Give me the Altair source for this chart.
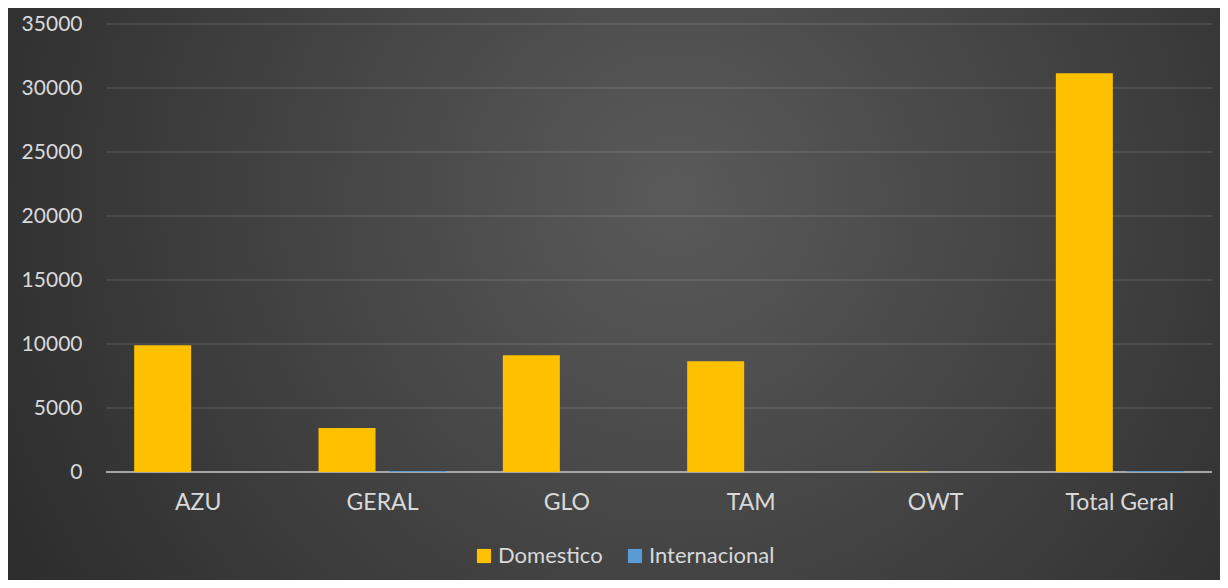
import altair as alt
import pandas as pd

categories = ["AZU", "GERAL", "GLO", "TAM", "OWT", "Total Geral"]
domestico = [9900, 3440, 9120, 8650, 40, 31150]
internacional = [0, 80, 0, 0, 0, 80]
series = ["Domestico", "Internacional"]
colors = ["#FFC000", "#5B9BD5"]
y_ticks = [0, 5000, 10000, 15000, 20000, 25000, 30000, 35000]

rows = []
for c, d, i in zip(categories, domestico, internacional):
    rows.append({"cat": c, "serie": series[0], "valor": d})
    rows.append({"cat": c, "serie": series[1], "valor": i})
df = pd.DataFrame(rows)

W, H = 1106, 448
PL, PT, PR, PB = 98, 16, 8, 108
FONT = "Lato"
TXT = "#d9d9d9"
FS = 23
yscale = alt.Scale(domain=[0, 35000], nice=False)

bg = alt.Chart(pd.DataFrame({"k": [0]})).mark_rect(
    fill={
        "gradient": "radial",
        "x1": 0.55, "y1": 0.42, "r1": 0.0,
        "x2": 0.55, "y2": 0.42, "r2": 0.72,
        "stops": [
            {"offset": 0.0, "color": "#5a5a5a"},
            {"offset": 1.0, "color": "#262626"},
        ],
    }
).encode(
    x=alt.value(-PL), x2=alt.value(W + PR),
    y=alt.value(-PT), y2=alt.value(H + PB),
)

grid = alt.Chart(pd.DataFrame({"t": y_ticks[1:]})).mark_rule(
    color="#ffffff", opacity=0.09, strokeWidth=2
).encode(y=alt.Y("t:Q", scale=yscale))

base = alt.Chart(pd.DataFrame({"t": [0]})).mark_rule(
    color="#a6a6a6", strokeWidth=2
).encode(y=alt.Y("t:Q", scale=yscale))

bars = alt.Chart(df).mark_bar().encode(
    x=alt.X("cat:N", sort=categories, title=None,
            scale=alt.Scale(paddingInner=0, paddingOuter=0),
            axis=alt.Axis(labelAngle=0, labelFont=FONT, labelFontSize=FS,
                          labelColor=TXT, labelPadding=19, ticks=False,
                          domain=False, grid=False, zindex=1)),
    xOffset=alt.XOffset("serie:N", sort=series,
                        scale=alt.Scale(paddingInner=0.197, paddingOuter=0.397)),
    y=alt.Y("valor:Q", title=None, scale=yscale,
            axis=alt.Axis(values=y_ticks, format="d", labelFont=FONT,
                          labelFontSize=21, labelColor=TXT, labelPadding=24,
                          ticks=False, domain=False, grid=False, zindex=1)),
    color=alt.Color("serie:N", sort=series, title=None,
                    scale=alt.Scale(domain=series, range=colors),
                    legend=alt.Legend(orient="none", legendX=367, legendY=521,
                                      direction="horizontal", symbolType="square",
                                      symbolSize=200, symbolStrokeWidth=0,
                                      labelFont=FONT, labelFontSize=22,
                                      labelColor=TXT, labelOffset=3,
                                      columnPadding=21)),
)

chart = alt.layer(bg, grid, base, bars).properties(
    width=W, height=H,
    autosize=alt.AutoSizeParams(type="none"),
    padding={"left": PL, "top": PT, "right": PR, "bottom": PB},
    background="#2a2a2a",
).configure_view(stroke=None)

chart.save("out.html", embed_options={"renderer": "svg", "actions": False})
